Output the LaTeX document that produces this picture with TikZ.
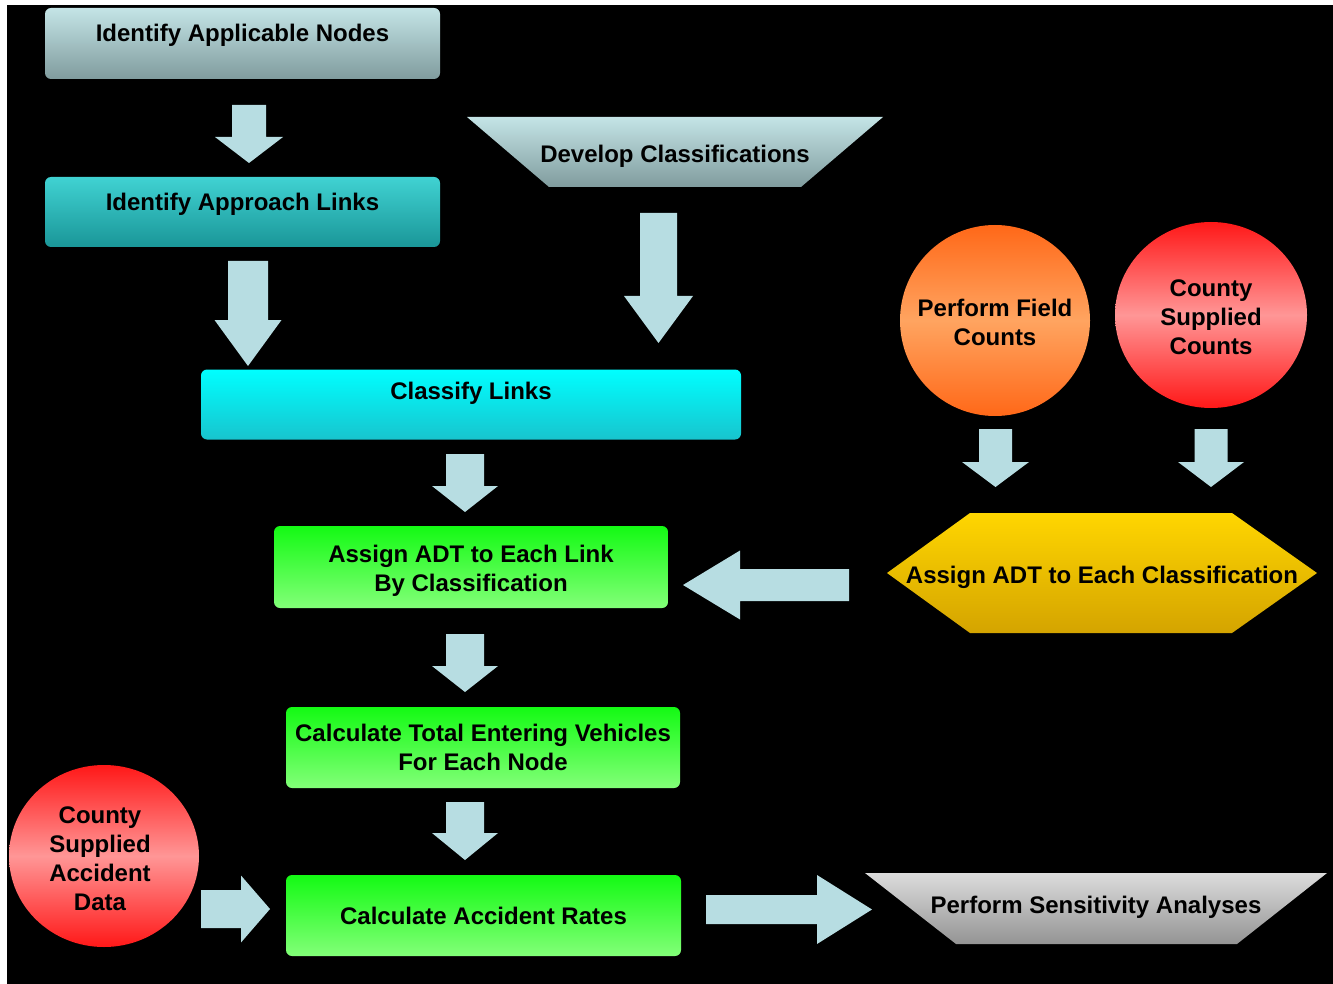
\documentclass[tikz,border=0pt]{standalone}
\usepackage{fontspec}
\setmainfont{Liberation Sans}
\usetikzlibrary{shapes.geometric}
\definecolor{arrowc}{RGB}{183,221,226}
\definecolor{grayA}{RGB}{196,228,230}
\definecolor{grayB}{RGB}{128,156,158}
\definecolor{tealA}{RGB}{64,210,210}
\definecolor{tealB}{RGB}{26,150,152}
\definecolor{cyanA}{RGB}{0,255,255}
\definecolor{cyanB}{RGB}{24,196,206}
\definecolor{greenA}{RGB}{20,250,20}
\definecolor{greenB}{RGB}{130,255,120}
\definecolor{goldA}{RGB}{255,214,0}
\definecolor{goldB}{RGB}{212,164,0}
\definecolor{silverA}{RGB}{220,220,220}
\definecolor{silverB}{RGB}{148,148,148}
\definecolor{orA}{RGB}{255,104,24}
\definecolor{orB}{RGB}{255,164,96}
\definecolor{redA}{RGB}{255,24,24}
\definecolor{redB}{RGB}{255,150,150}
\newcommand{\blkdown}[6]{\fill[arrowc] ({#1-#4},#2) -- ({#1+#4},#2) -- ({#1+#4},#6) -- ({#1+#5},#6) -- (#1,#3) -- ({#1-#5},#6) -- ({#1-#4},#6) -- cycle;}
\newcommand{\blkhoriz}[6]{\fill[arrowc] (#2,{#1-#4}) -- (#6,{#1-#4}) -- (#6,{#1-#5}) -- (#3,#1) -- (#6,{#1+#5}) -- (#6,{#1+#4}) -- (#2,{#1+#4}) -- cycle;}
\begin{document}
\begin{tikzpicture}[x=1pt,y=-1pt,
  every node/.style={font=\fontsize{24}{29}\selectfont\bfseries, text=black, align=center},
  rbox/.style={rectangle, rounded corners=6pt, inner sep=0pt},
  oval/.style={ellipse, inner sep=0pt},
  oneline/.style={text height=17pt, text depth=0pt, inner sep=0pt}]
\fill[white] (0,0) rectangle (1333,984);
\fill[black] (7,5) rectangle (1333,984);
\useasboundingbox (0,0) rectangle (1333,984);

% boxes
\node[rbox, minimum width=395pt, minimum height=71pt, top color=grayA, bottom color=grayB,
      text height=17pt, text depth=21pt] (nodes) at (242.5,43.5) {Identify Applicable Nodes};
\node[rbox, minimum width=395pt, minimum height=70pt, top color=tealA, bottom color=tealB,
      text height=17pt, text depth=20pt] (approach) at (242.5,212) {Identify Approach Links};
\node[rbox, minimum width=540pt, minimum height=70pt, top color=cyanA, bottom color=cyanB,
      text height=17pt, text depth=27pt] (classify) at (471,404.5) {Classify Links};
\node[rbox, minimum width=394pt, minimum height=82pt, top color=greenA, bottom color=greenB]
      (assign) at (471,567) {};
\node (assigntxt) at ([yshift=-4pt]assign.center) {Assign ADT to Each Link\\By Classification};
\node[rbox, minimum width=394pt, minimum height=81pt, top color=greenA, bottom color=greenB]
      (total) at (483,747.5) {Calculate Total Entering Vehicles\\For Each Node};
\node[rbox, minimum width=395pt, minimum height=81pt, top color=greenA, bottom color=greenB,
      text height=17pt, text depth=0pt] (rates) at (483.5,915.5) {Calculate Accident Rates};

% trapezoids and hexagon
\shade[top color=grayA, bottom color=grayB] (467,117) -- (883,117) -- (801,187) -- (549,187) -- cycle;
\node[oneline] (develop) at (675,154) {Develop Classifications};
\shade[top color=silverA, bottom color=silverB] (865,873) -- (1327,873) -- (1237,944) -- (956,944) -- cycle;
\node[oneline] (sens) at (1096,905) {Perform Sensitivity Analyses};
\shade[top color=goldA, bottom color=goldB] (970,513) -- (1232,513) -- (1317,573) -- (1232,633) -- (970,633) -- (887,573) -- cycle;
\node[oneline] (assigncls) at (1102,575) {Assign ADT to Each Classification};

% circles
\node[oval, minimum width=190pt, minimum height=191pt, top color=orA, bottom color=orA, middle color=orB] (fieldc) at (995,320.5) {};
\node (field) at ([yshift=-2pt]fieldc.center) {Perform Field\\Counts};
\node[oval, minimum width=192pt, minimum height=186pt, top color=redA, bottom color=redA, middle color=redB] (countyc) at (1211,315) {};
\node (county) at ([yshift=-2pt]countyc.center) {County\\Supplied\\Counts};
\node[oval, minimum width=190pt, minimum height=182pt, top color=redA, bottom color=redA, middle color=redB] (accc) at (104,856) {};
\node (acc) at ([xshift=-4pt,yshift=-2.5pt]accc.center) {County\\Supplied\\Accident\\Data};

% block arrows
\blkdown{249}{105}{163}{17}{34}{137}
\blkdown{248}{261}{366}{20}{33.5}{320}
\blkdown{658.5}{213}{343}{18.5}{34.5}{296}
\blkdown{465}{454}{512}{19}{33}{486}
\blkdown{465}{634}{692}{19}{33}{666}
\blkdown{465}{802}{860}{19}{33}{833}
\blkdown{995.5}{429}{487}{16.5}{33.5}{462}
\blkdown{1211}{429}{487}{16.5}{33}{462}
\blkhoriz{585}{849}{683}{16}{34.5}{740}
\blkhoriz{909}{201}{270}{19}{33.5}{241}
\blkhoriz{909.5}{706}{872}{14.5}{34.5}{817}
\end{tikzpicture}
\end{document}
